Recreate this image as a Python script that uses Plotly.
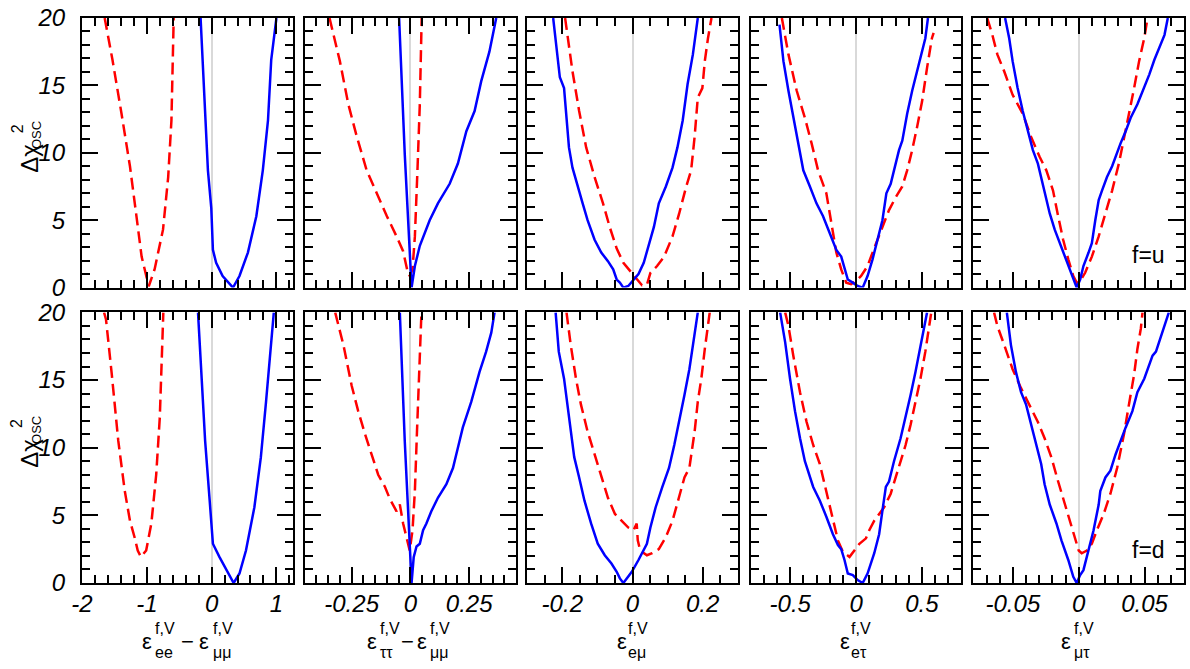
import plotly.graph_objects as go
from plotly.subplots import make_subplots

# ---------------- data ----------------
# column 1: eps_ee - eps_mumu
u_c1_blue_x = [-0.17, -0.11, -0.057, -0.005, 0.02, 0.07, 0.17, 0.33, 0.43, 0.56, 0.69, 0.79, 0.87, 0.92, 1.0]
u_c1_blue_y = [20, 13.6, 8.7, 5.9, 2.8, 1.84, 0.86, 0.0, 0.86, 2.6, 5.3, 8.7, 12.4, 16.9, 20]
u_c1_red_x = [-1.65, -1.53, -1.39, -1.26, -1.16, -1.08, -0.97, -0.88, -0.75, -0.67, -0.62, -0.60, -0.585]
u_c1_red_y = [20, 16.9, 12.9, 9.0, 5.3, 2.3, 0.1, 1.35, 4.3, 8.2, 12.4, 16.1, 20]
d_c1_blue_x = [-0.21, -0.16, -0.10, -0.03, 0.02, 0.12, 0.23, 0.34, 0.43, 0.53, 0.66, 0.76, 0.84, 0.91, 0.96]
d_c1_blue_y = [20, 15.4, 10.5, 6.1, 2.9, 1.93, 0.95, 0.0, 0.7, 2.4, 5.6, 9.3, 13.4, 17.3, 20]
d_c1_red_x = [-1.66, -1.63, -1.54, -1.44, -1.34, -1.26, -1.19, -1.14, -1.09, -1.01, -0.93, -0.855, -0.80, -0.77, -0.745]
d_c1_red_y = [20, 19.5, 15.4, 10.5, 6.8, 4.6, 3.4, 2.4, 1.93, 2.4, 4.4, 8.0, 12.2, 16.1, 20]

# column 2: eps_tautau - eps_mumu
u_c2_blue_x = [-0.048, -0.024, 0.005, 0.019, 0.040, 0.061, 0.082, 0.117, 0.167, 0.202, 0.238, 0.273, 0.301, 0.336, 0.353, 0.365]
u_c2_blue_y = [20, 9.9, 0, 1.6, 3.1, 4.0, 5.0, 6.25, 7.7, 9.2, 11.6, 13.1, 15.3, 17.5, 19.0, 20]
u_c2_red_x = [-0.344, -0.30, -0.264, -0.228, -0.186, -0.144, -0.10, -0.059, -0.031, -0.014, -0.003, 0.009, 0.019, 0.030, 0.040, 0.048]
u_c2_red_y = [20, 16.8, 13.6, 11.2, 8.7, 7.0, 5.3, 3.8, 2.7, 1.35, 0.86, 1.35, 3.8, 8.7, 13.6, 20]
d_c2_blue_x = [-0.045, -0.024, 0.005, 0.014, 0.026, 0.040, 0.054, 0.068, 0.089, 0.117, 0.153, 0.181, 0.202, 0.223, 0.259, 0.294, 0.322, 0.344, 0.358]
d_c2_blue_y = [20, 10.5, 0, 1.9, 2.7, 2.9, 3.9, 4.4, 5.3, 6.3, 7.3, 8.5, 10.0, 11.5, 13.4, 15.6, 17.1, 18.5, 20]
d_c2_red_x = [-0.32, -0.285, -0.25, -0.222, -0.193, -0.165, -0.137, -0.108, -0.087, -0.059, -0.045, -0.031, -0.017, -0.01, -0.003, 0.009, 0.019, 0.028, 0.040, 0.047]
d_c2_red_y = [20, 17.6, 14.6, 12.7, 11.0, 9.5, 8.0, 7.1, 6.2, 5.3, 5.8, 4.4, 3.4, 2.7, 2.4, 3.9, 6.8, 11.2, 16.6, 20]

# column 3: eps_emu
u_c3_blue_x = [-0.226, -0.214, -0.207, -0.195, -0.19, -0.181, -0.171, -0.157, -0.142, -0.128, -0.108, -0.089, -0.07, -0.055, -0.045, -0.036, -0.026, -0.012, 0.003, 0.017, 0.032, 0.046, 0.061, 0.075, 0.095, 0.114, 0.128, 0.143, 0.157, 0.172, 0.186]
u_c3_blue_y = [20, 17.3, 15.6, 14.8, 13.1, 10.4, 8.9, 7.7, 6.25, 5.0, 3.55, 2.6, 1.96, 1.35, 0.6, 0.37, 0.0, 0.12, 0.6, 1.0, 1.84, 3.1, 4.5, 6.25, 7.5, 8.9, 10.4, 12.4, 15.1, 17.3, 20]
u_c3_red_x = [-0.192, -0.171, -0.152, -0.132, -0.108, -0.084, -0.065, -0.045, -0.026, -0.002, 0.012, 0.027, 0.041, 0.051, 0.07, 0.09, 0.114, 0.133, 0.153, 0.167, 0.177, 0.186, 0.199, 0.206, 0.215, 0.225]
u_c3_red_y = [20, 16.05, 13.1, 10.4, 8.2, 6.25, 4.5, 2.9, 1.84, 1.1, 0.6, 0.17, 0.2, 1.1, 1.6, 2.3, 3.8, 5.5, 7.5, 8.7, 11.2, 14.1, 14.8, 16.8, 18.5, 20]
d_c3_blue_x = [-0.219, -0.21, -0.195, -0.186, -0.176, -0.166, -0.152, -0.137, -0.118, -0.099, -0.079, -0.06, -0.045, -0.036, -0.026, -0.017, -0.002, 0.017, 0.032, 0.041, 0.051, 0.066, 0.085, 0.104, 0.119, 0.133, 0.148, 0.162, 0.177, 0.186]
d_c3_blue_y = [20, 17.1, 15.1, 13.4, 11.2, 9.3, 7.8, 6.1, 4.4, 2.9, 2.05, 1.44, 0.83, 0.34, 0, 0.34, 0.83, 1.7, 2.4, 2.9, 4.1, 5.6, 7.1, 8.5, 10.2, 11.9, 13.9, 15.8, 18.3, 20]
d_c3_red_x = [-0.188, -0.176, -0.161, -0.147, -0.128, -0.108, -0.089, -0.07, -0.05, -0.031, -0.012, 0.003, 0.012, 0.015, 0.022, 0.041, 0.056, 0.075, 0.095, 0.114, 0.133, 0.148, 0.162, 0.177, 0.186, 0.196, 0.206, 0.22]
d_c3_red_y = [20, 17.6, 15.1, 13.2, 11.2, 9.5, 7.8, 6.3, 5.1, 4.6, 4.1, 3.9, 4.4, 3.15, 2.4, 2.05, 2.2, 2.5, 3.4, 4.6, 6.3, 7.8, 8.5, 11.2, 13.4, 15.1, 17.3, 20]

# column 4: eps_etau
u_c4_blue_x = [-0.582, -0.552, -0.514, -0.477, -0.439, -0.401, -0.351, -0.301, -0.251, -0.2, -0.15, -0.113, -0.088, -0.063, -0.025, 0.012, 0.05, 0.087, 0.125, 0.162, 0.2, 0.23, 0.263, 0.288, 0.326, 0.351, 0.388, 0.426, 0.451, 0.489, 0.526, 0.546]
u_c4_blue_y = [19.5, 16.8, 14.6, 12.6, 10.7, 8.7, 7.5, 6.25, 5.3, 4.0, 2.8, 2.3, 1.35, 0.6, 0.37, 0.12, 0, 0.86, 2.1, 3.55, 5.0, 7.0, 7.7, 8.7, 10.2, 10.9, 12.9, 14.6, 15.6, 17.0, 18.5, 20]
u_c4_red_x = [-0.564, -0.514, -0.451, -0.389, -0.338, -0.289, -0.226, -0.188, -0.15, -0.113, -0.075, -0.038, 0.0, 0.038, 0.087, 0.125, 0.162, 0.2, 0.25, 0.301, 0.351, 0.388, 0.426, 0.463, 0.501, 0.539, 0.576, 0.589]
u_c4_red_y = [20, 17.3, 14.6, 12.6, 10.7, 8.7, 7.0, 4.8, 2.6, 1.35, 0.37, 0.25, 0.5, 0.86, 1.6, 2.6, 3.55, 4.5, 5.75, 6.7, 7.5, 8.7, 10.2, 11.9, 13.8, 16.3, 18.5, 18.9]
d_c4_blue_x = [-0.577, -0.539, -0.502, -0.464, -0.426, -0.389, -0.326, -0.276, -0.226, -0.176, -0.138, -0.113, -0.088, -0.063, -0.025, 0.012, 0.05, 0.087, 0.138, 0.175, 0.2, 0.226, 0.25, 0.288, 0.338, 0.376, 0.414, 0.451, 0.489, 0.526, 0.539]
d_c4_blue_y = [20, 17.8, 15.1, 12.7, 10.7, 9.0, 7.1, 6.1, 4.9, 3.6, 2.8, 2.5, 1.7, 0.7, 0.59, 0.22, 0, 0.7, 2.2, 3.6, 5.35, 7.1, 7.5, 9.0, 10.7, 12.2, 13.9, 15.6, 17.6, 19.5, 20]
d_c4_red_x = [-0.539, -0.514, -0.477, -0.426, -0.376, -0.326, -0.276, -0.226, -0.176, -0.138, -0.1, -0.05, -0.013, 0.025, 0.075, 0.1, 0.138, 0.175, 0.213, 0.263, 0.301, 0.338, 0.376, 0.414, 0.451, 0.489, 0.526, 0.564, 0.571]
d_c4_red_y = [20, 19.0, 16.8, 14.1, 11.9, 10.2, 8.8, 6.8, 4.9, 3.15, 2.3, 1.93, 2.4, 2.9, 3.3, 3.9, 4.6, 5.1, 5.6, 6.6, 7.8, 9.0, 10.2, 11.7, 13.4, 15.1, 17.1, 19.3, 20]

# column 5: eps_mutau
u_c5_blue_x = [-0.0559, -0.0528, -0.0502, -0.0464, -0.0425, -0.0387, -0.0348, -0.031, -0.0285, -0.0259, -0.022, -0.0182, -0.0143, -0.0105, -0.0066, -0.0041, -0.0015, 0.0011, 0.0036, 0.0075, 0.01, 0.0126, 0.0152, 0.0177, 0.0215, 0.0254, 0.028, 0.0318, 0.0357, 0.0395, 0.0446, 0.0498, 0.0536, 0.0575, 0.0613, 0.0652, 0.0677]
u_c5_blue_y = [20, 18.5, 16.8, 14.8, 13.1, 11.6, 10.2, 9.2, 8.2, 7.0, 5.5, 4.3, 3.3, 2.3, 1.35, 0.6, 0, 0.6, 1.6, 2.6, 3.3, 5.0, 6.5, 7.2, 8.2, 9.0, 9.7, 10.7, 11.6, 12.6, 13.6, 14.8, 15.8, 16.9, 17.8, 18.75, 20]
u_c5_red_x = [-0.0695, -0.0656, -0.0618, -0.0566, -0.0502, -0.0425, -0.0362, -0.0297, -0.0246, -0.0195, -0.0156, -0.0118, -0.0079, -0.0041, -0.0015, 0.0011, 0.0049, 0.01, 0.0152, 0.0203, 0.0254, 0.0305, 0.0344, 0.0382, 0.0421, 0.0459, 0.0498, 0.0523]
u_c5_red_y = [20, 18.75, 17.3, 16.05, 14.3, 12.9, 11.2, 9.7, 8.7, 7.2, 5.3, 3.55, 2.1, 0.86, 0.37, 0.5, 1.1, 2.3, 3.8, 5.5, 7.2, 9.2, 11.2, 12.9, 14.8, 16.8, 18.5, 20]
d_c5_blue_x = [-0.0546, -0.0515, -0.0477, -0.0438, -0.04, -0.0362, -0.0323, -0.0285, -0.0259, -0.022, -0.0169, -0.0131, -0.0079, -0.0041, -0.0015, 0.0011, 0.0036, 0.0075, 0.0113, 0.0152, 0.0164, 0.0203, 0.0241, 0.028, 0.0318, 0.0357, 0.0408, 0.0446, 0.0498, 0.0536, 0.0561, 0.0587, 0.0626, 0.0665, 0.0685]
d_c5_blue_y = [20, 17.6, 15.6, 14.1, 13.2, 11.7, 10.2, 8.8, 7.3, 5.8, 4.4, 3.15, 1.7, 0.46, 0, 0.59, 0.95, 2.4, 3.9, 5.8, 6.8, 7.8, 8.3, 9.5, 10.5, 11.5, 12.7, 14.1, 15.1, 16.1, 16.8, 17.1, 18.3, 19.5, 20]
d_c5_red_x = [-0.0643, -0.0618, -0.0566, -0.0502, -0.0438, -0.0374, -0.031, -0.0259, -0.0208, -0.0156, -0.0105, -0.0054, -0.0028, 0.0, 0.0023, 0.0062, 0.01, 0.0138, 0.019, 0.0241, 0.0292, 0.0344, 0.0382, 0.0421, 0.0446, 0.0472, 0.0485]
d_c5_red_y = [20, 19.0, 17.6, 15.8, 14.4, 13.2, 11.9, 10.7, 9.3, 7.5, 5.8, 4.1, 3.15, 2.4, 2.2, 2.4, 2.9, 3.9, 5.1, 6.6, 8.5, 11.0, 13.2, 15.4, 17.3, 18.8, 20]

# tick labels
c1_ticks = [-2, -1, 0, 1]
c1_ticktext = ["-2", "-1", "0", "1"]
c2_ticks = [-0.25, 0, 0.25]
c2_ticktext = ["-0.25", "0", "0.25"]
c3_ticks = [-0.2, 0, 0.2]
c3_ticktext = ["-0.2", "0", "0.2"]
c4_ticks = [-0.5, 0, 0.5]
c4_ticktext = ["-0.5", "0", "0.5"]
c5_ticks = [-0.05, 0, 0.05]
c5_ticktext = ["-0.05", "0", "0.05"]
y_ticks = [0, 5, 10, 15, 20]
y_ticktext = ["0", "5", "10", "15", "20"]
row_labels = ["f=u", "f=d"]

# ---------------- figure ----------------
W, H = 1190, 669
L, R, T, B = 82, 4, 13, 86
PW, PH = W - L - R, H - T - B

panel_px = [(82, 293), (305, 517), (528, 739), (752, 963), (975, 1186)]
row_px = [(13, 285), (310, 583)]

def px2x(px):
    return (px - L) / PW

def py2y(py):
    return (H - B - py) / PH

def italic(labels):
    return [f"<i>{t}</i>" for t in labels]

fig = make_subplots(rows=2, cols=5)

BLUE = "#0000ff"
RED = "#ff0000"

curves = {
    (1, 1): (u_c1_blue_x, u_c1_blue_y, u_c1_red_x, u_c1_red_y),
    (1, 2): (u_c2_blue_x, u_c2_blue_y, u_c2_red_x, u_c2_red_y),
    (1, 3): (u_c3_blue_x, u_c3_blue_y, u_c3_red_x, u_c3_red_y),
    (1, 4): (u_c4_blue_x, u_c4_blue_y, u_c4_red_x, u_c4_red_y),
    (1, 5): (u_c5_blue_x, u_c5_blue_y, u_c5_red_x, u_c5_red_y),
    (2, 1): (d_c1_blue_x, d_c1_blue_y, d_c1_red_x, d_c1_red_y),
    (2, 2): (d_c2_blue_x, d_c2_blue_y, d_c2_red_x, d_c2_red_y),
    (2, 3): (d_c3_blue_x, d_c3_blue_y, d_c3_red_x, d_c3_red_y),
    (2, 4): (d_c4_blue_x, d_c4_blue_y, d_c4_red_x, d_c4_red_y),
    (2, 5): (d_c5_blue_x, d_c5_blue_y, d_c5_red_x, d_c5_red_y),
}

for (r, c), (bx, by, rx, ry) in curves.items():
    fig.add_trace(go.Scatter(x=rx, y=ry, mode="lines",
                             line=dict(color=RED, width=2.5, dash="12px,6px"),
                             showlegend=False), row=r, col=c)
    fig.add_trace(go.Scatter(x=bx, y=by, mode="lines",
                             line=dict(color=BLUE, width=2.5),
                             showlegend=False), row=r, col=c)

x_ranges = [[-2, 1.25], [-0.45, 0.45], [-0.3, 0.3], [-0.8, 0.8], [-0.08, 0.08]]
x_minor = [0.2, 0.05, 0.05, 0.1, 0.01]
x_tickvals = [c1_ticks, c2_ticks, c3_ticks, c4_ticks, c5_ticks]
x_ticktexts = [c1_ticktext, c2_ticktext, c3_ticktext, c4_ticktext, c5_ticktext]

FONT = "Liberation Sans, Arial, sans-serif"
tickfont = dict(family=FONT, size=24, color="black")

for r in (1, 2):
    for c in range(1, 6):
        idx = (r - 1) * 5 + c
        xname = "xaxis" if idx == 1 else f"xaxis{idx}"
        yname = "yaxis" if idx == 1 else f"yaxis{idx}"
        x0, x1 = panel_px[c - 1]
        ytop, ybot = row_px[r - 1]
        fig.layout[xname].update(
            domain=[px2x(x0), px2x(x1)],
            range=x_ranges[c - 1],
            tickmode="array", tickvals=x_tickvals[c - 1], ticktext=italic(x_ticktexts[c - 1]),
            ticks="inside", ticklen=16, tickwidth=2, tickcolor="black",
            minor=dict(ticks="inside", ticklen=8, tickwidth=2, tickcolor="black",
                       dtick=x_minor[c - 1], tick0=0, showgrid=False),
            showline=True, linecolor="black", linewidth=2, mirror="allticks",
            showgrid=False, zeroline=True, zerolinecolor="#d9d9d9", zerolinewidth=1.5,
            showticklabels=(r == 2), tickfont=tickfont, ticklabelstandoff=-2,
        )
        fig.layout[yname].update(
            domain=[py2y(ybot), py2y(ytop)],
            range=[0, 20],
            tickmode="array", tickvals=y_ticks, ticktext=italic(y_ticktext),
            ticks="inside", ticklen=16, tickwidth=2, tickcolor="black",
            minor=dict(ticks="inside", ticklen=8, tickwidth=2, tickcolor="black",
                       dtick=1, tick0=0, showgrid=False),
            showline=True, linecolor="black", linewidth=2, mirror="allticks",
            showgrid=False, zeroline=False,
            showticklabels=(c == 1), tickfont=tickfont, ticklabelstandoff=10,
        )

annotations = []

def add_text(text, px, py, size, xanchor="center", yanchor="middle", angle=0):
    annotations.append(dict(
        text=text, x=px2x(px), y=py2y(py), xref="paper", yref="paper",
        xanchor=xanchor, yanchor=yanchor, showarrow=False, textangle=angle,
        font=dict(family=FONT, size=size, color="black"),
        borderpad=0,
    ))

# x titles built from stacked super/subscripts
EPS_SIZE, SCR_SIZE = 22, 16
MAIN_Y = 642
SUP_Y = 629
SUB_Y = 653
x_title_parts = [
    # (eps offsets, script-left offsets, subscripts, minus offset)
    ([-40, 17], [-33, 25], ["ee", "μμ"], 0),
    ([-38, 11.5], [-31, 19], ["ττ", "μμ"], -3),
    ([-11], [-6], ["eμ"], None),
    ([-11.5], [-6.5], ["eτ"], None),
    ([-12.5], [-6], ["μτ"], None),
]
for c, (eps_off, scr_off, subs, minus_off) in enumerate(x_title_parts):
    cx = (panel_px[c][0] + panel_px[c][1]) / 2
    for eo, so, sb in zip(eps_off, scr_off, subs):
        add_text("ε", cx + eo, MAIN_Y, EPS_SIZE)
        add_text("f,V", cx + so, SUP_Y, SCR_SIZE, xanchor="left")
        add_text(sb, cx + so, SUB_Y, SCR_SIZE, xanchor="left")
    if minus_off is not None:
        add_text("−", cx + minus_off, MAIN_Y, EPS_SIZE)

# y titles
for (ytop, ybot) in row_px:
    cy = (ytop + ybot) / 2
    add_text("Δχ", 30, cy + 6, 24, angle=-90)
    add_text("2", 17, cy - 24, 16, angle=-90)
    add_text("OSC", 37, cy - 18, 13, angle=-90)

# f=u / f=d labels
add_text(row_labels[0], 1150, 252, 23)
add_text(row_labels[1], 1150, 550, 23)

fig.update_layout(
    width=W, height=H,
    margin=dict(l=L, r=R, t=T, b=B, pad=0),
    paper_bgcolor="white", plot_bgcolor="white",
    showlegend=False,
    annotations=annotations,
)

fig.write_html("out.html")
